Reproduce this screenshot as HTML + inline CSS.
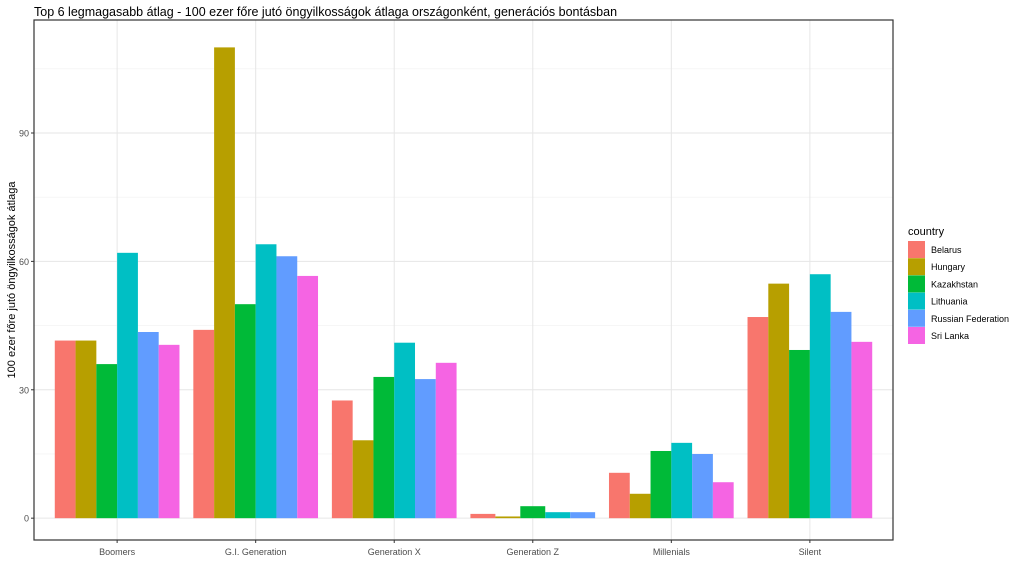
<!DOCTYPE html>
<html><head><meta charset="utf-8"><style>
body{margin:0;background:#fff;font-family:"Liberation Sans",sans-serif}
</style></head><body>
<svg id="c" width="1024" height="576" xmlns="http://www.w3.org/2000/svg"></svg>
<script>
const categories=["Boomers","G.I. Generation","Generation X","Generation Z","Millenials","Silent"];
const countries=["Belarus","Hungary","Kazakhstan","Lithuania","Russian Federation","Sri Lanka"];
const colors=["#F8766D","#B79F00","#00BA38","#00BFC4","#619CFF","#F564E3"];
const belarus=[41.5,44,27.5,1.0,10.6,47];
const hungary=[41.5,110,18.2,0.4,5.7,54.8];
const kazakhstan=[36,50,33,2.8,15.7,39.3];
const lithuania=[62,64,41,1.4,17.6,57];
const russia=[43.5,61.2,32.5,1.4,15,48.2];
const srilanka=[40.5,56.6,36.3,null,8.4,41.2];
const yTicks=[0,30,60,90];
const series=[belarus,hungary,kazakhstan,lithuania,russia,srilanka];
const NS="http://www.w3.org/2000/svg";
const svg=document.getElementById('c');
const L=34,R=893,T=20,B=540,ymin=-5.1,ymax=116.4;
const y=v=>B-(v-ymin)/(ymax-ymin)*(B-T);
const step=(R-L)/(categories.length-1+1.2);
const x=i=>L+step*(i+0.6);
function el(t,a,txt){const e=document.createElementNS(NS,t);for(const k in a)e.setAttribute(k,a[k]);if(txt!=null)e.textContent=txt;svg.appendChild(e);return e;}
let e=el('text',{x:34,y:16,'font-size':12.5,fill:'#000'},'Top 6 legmagasabb átlag - 100 ezer főre jutó öngyilkosságok átlaga országonként, generációs bontásban');

for(let v=15;v<ymax;v+=30){e=el('line',{x1:L,x2:R,y1:y(v),y2:y(v),stroke:'#f0f0f0','stroke-width':0.6});}
yTicks.forEach(v=>{e=el('line',{x1:L,x2:R,y1:y(v),y2:y(v),stroke:'#e6e6e6','stroke-width':1});
e=el('line',{x1:L-3,x2:L,y1:y(v),y2:y(v),stroke:'#333'});
e=el('text',{x:L-5,y:y(v)+3.5,'font-size':9,fill:'#4d4d4d','text-anchor':'end'},v);});
categories.forEach((c,i)=>{e=el('line',{x1:x(i),x2:x(i),y1:T,y2:B,stroke:'#e6e6e6'});});
categories.forEach((c,i)=>{
 const present=series.map((s,k)=>k).filter(k=>series[k][i]!=null);
 const gw=step*0.9,bw=gw/present.length;
 present.forEach((k,j)=>{const v=series[k][i];
  e=el('rect',{x:x(i)-gw/2+j*bw,y:Math.min(y(v),y(0)),width:bw,height:Math.abs(y(0)-y(v)),fill:colors[k]});
  });
 e=el('line',{x1:x(i),x2:x(i),y1:B,y2:B+3,stroke:'#333'});
 e=el('text',{x:x(i),y:B+15,'font-size':9,fill:'#4d4d4d','text-anchor':'middle'},c);
});
e=el('rect',{x:L,y:T,width:R-L,height:B-T,fill:'none',stroke:'#333','stroke-width':1.2});
e=el('text',{x:0,y:0,'font-size':11,fill:'#000','text-anchor':'middle',transform:'translate(15,'+((T+B)/2)+') rotate(-90)'},'100 ezer főre jutó öngyilkosságok átlaga');
e=el('text',{x:908,y:235,'font-size':11,fill:'#000'},'country');
countries.forEach((c,k)=>{const yy=241+k*17.2;
 e=el('rect',{x:908,y:yy,width:17,height:17,fill:colors[k]});
 e=el('text',{x:931,y:yy+12,'font-size':9,fill:'#000'},c);});
</script>
</body></html>
